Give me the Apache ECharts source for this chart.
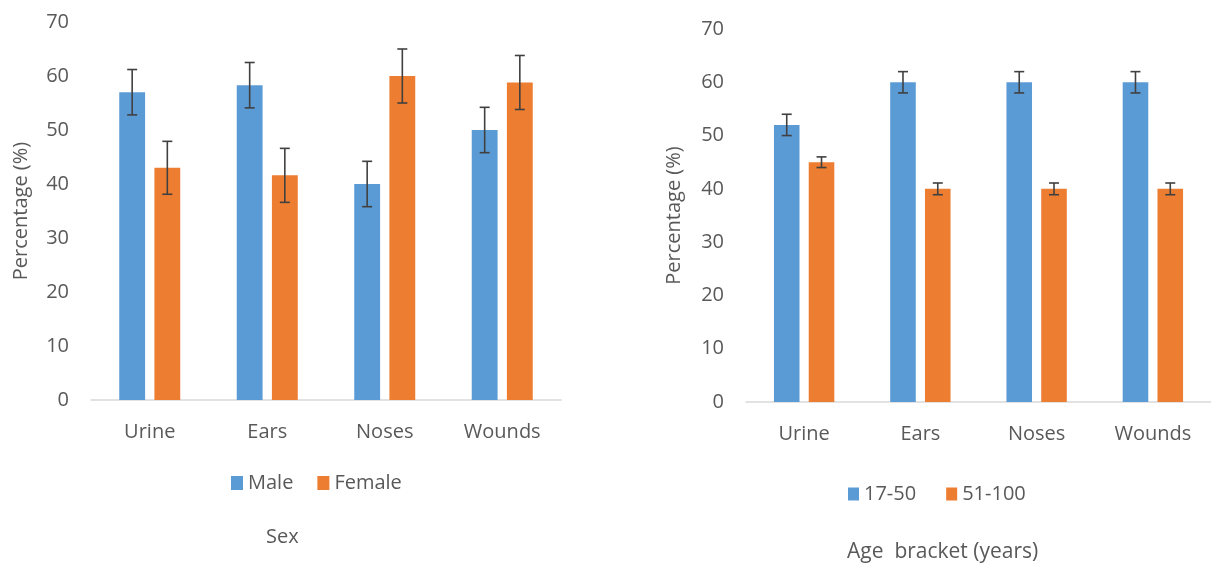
<!DOCTYPE html>
<html><head><meta charset="utf-8">
<script src="https://cdn.jsdelivr.net/npm/echarts@6/dist/echarts.min.js"></script>
<style>html,body{margin:0;padding:0;background:#fff}#c{width:1211px;height:568px}</style>
</head><body><div id="c"></div>
<script>
var categories = ['Urine', 'Ears', 'Noses', 'Wounds'];
var yTicks = [0, 10, 20, 30, 40, 50, 60, 70];
// Left panel: Sex
var maleValues = [57, 58.3, 40, 50];
var maleErrors = [4.2, 4.2, 4.2, 4.2];
var femaleValues = [43, 41.6, 60, 58.8];
var femaleErrors = [4.9, 5, 5, 5];
// Right panel: Age bracket
var age1750Values = [52, 60, 60, 60];
var age1750Errors = [2, 2, 2, 2];
var age51100Values = [45, 40, 40, 40];
var age51100Errors = [1, 1.1, 1.1, 1.1];

var BLUE = '#5B9BD5', ORANGE = '#ED7D31', TXT = '#595959', FONT = 'Open Sans', FS = 20;
var BW = 0.22, GAP = 0.36;

function errRender(sign) {
  return function (params, api) {
    var i = api.value(0), v = api.value(1), e = api.value(2);
    var band = api.size([1, 0])[0];
    var off = sign * band * BW * (1 + GAP) / 2;
    var t = api.coord([i, v + e]), b = api.coord([i, v - e]);
    var cx = t[0] + off, hw = 5;
    var st = {stroke: '#404040', lineWidth: 1.6};
    return {type: 'group', children: [
      {type: 'line', shape: {x1: cx, y1: t[1], x2: cx, y2: b[1]}, style: st},
      {type: 'line', shape: {x1: cx - hw, y1: t[1], x2: cx + hw, y2: t[1]}, style: st},
      {type: 'line', shape: {x1: cx - hw, y1: b[1], x2: cx + hw, y2: b[1]}, style: st}
    ]};
  };
}
function errData(vals, errs) { return vals.map(function (v, k) { return [k, v, errs[k]]; }); }

function xAxis(gi) {
  return {gridIndex: gi, type: 'category', data: categories,
    axisLine: {lineStyle: {color: '#D9D9D9', width: 1.5}}, axisTick: {show: false},
    axisLabel: {color: TXT, fontSize: FS, fontFamily: FONT, margin: 22}};
}
function yAxis(gi, gap) {
  return {gridIndex: gi, type: 'value', min: yTicks[0], max: yTicks[yTicks.length - 1], interval: 10,
    name: 'Percentage (%)', nameLocation: 'middle', nameGap: gap, nameRotate: 90,
    nameTextStyle: {color: TXT, fontSize: FS, fontFamily: FONT},
    axisLine: {show: false}, axisTick: {show: false}, splitLine: {show: false},
    axisLabel: {color: TXT, fontSize: FS, fontFamily: FONT, margin: 22}};
}
function bar(name, gi, data, color) {
  return {name: name, type: 'bar', xAxisIndex: gi, yAxisIndex: gi, data: data,
    barWidth: (BW * 100) + '%', barGap: (GAP * 100) + '%', itemStyle: {color: color}};
}
function err(gi, vals, errs, sign) {
  return {type: 'custom', name: 'err' + gi + sign, xAxisIndex: gi, yAxisIndex: gi,
    data: errData(vals, errs), renderItem: errRender(sign), z: 5, silent: true};
}

var chart = echarts.init(document.getElementById('c'));
chart.setOption({
  animation: false,
  grid: [
    {left: 91, right: 650, top: 22, bottom: 168},
    {left: 746, right: 0, top: 29, bottom: 166}
  ],
  xAxis: [xAxis(0), xAxis(1)],
  yAxis: [yAxis(0, 60), yAxis(1, 62)],
  legend: [
    {data: ['Male', 'Female'], left: 226, top: 468, icon: 'rect', itemWidth: 12, itemHeight: 14, itemGap: 24,
      textStyle: {color: TXT, fontSize: FS, fontFamily: FONT}},
    {data: ['17-50', '51-100'], left: 843, top: 479, icon: 'rect', itemWidth: 11, itemHeight: 13, itemGap: 30,
      textStyle: {color: TXT, fontSize: FS, fontFamily: FONT}}
  ],
  title: [
    {text: 'Sex', left: 261, top: 522, textStyle: {color: TXT, fontSize: FS, fontWeight: 'normal', fontFamily: FONT}},
    {text: 'Age  bracket (years)', left: 842, top: 537, textStyle: {color: TXT, fontSize: 21, fontWeight: 'normal', fontFamily: FONT}}
  ],
  series: [
    bar('Male', 0, maleValues, BLUE),
    bar('Female', 0, femaleValues, ORANGE),
    err(0, maleValues, maleErrors, -1),
    err(0, femaleValues, femaleErrors, 1),
    bar('17-50', 1, age1750Values, BLUE),
    bar('51-100', 1, age51100Values, ORANGE),
    err(1, age1750Values, age1750Errors, -1),
    err(1, age51100Values, age51100Errors, 1)
  ]
});
</script></body></html>
